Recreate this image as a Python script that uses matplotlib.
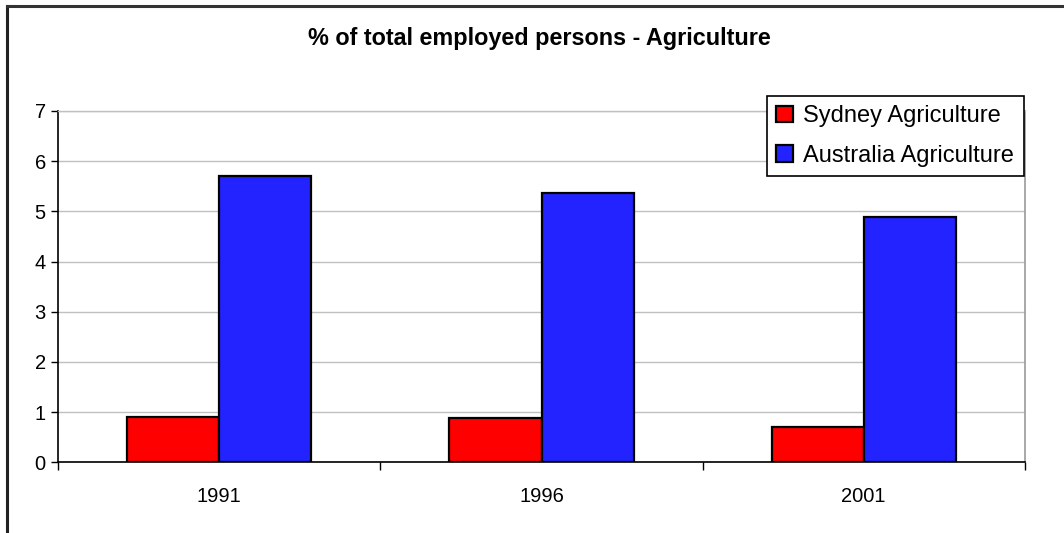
import matplotlib
matplotlib.use("Agg")
import matplotlib.pyplot as plt
from matplotlib.lines import Line2D
import numpy as np

years = ["1991", "1996", "2001"]
sydney = [0.91, 0.88, 0.71]
australia = [5.71, 5.36, 4.88]
series_names = ["Sydney Agriculture", "Australia Agriculture"]
y_ticks = [0, 1, 2, 3, 4, 5, 6, 7]
title = "% of total employed persons - Agriculture"

plt.rcParams['font.family'] = ['Liberation Sans', 'DejaVu Sans']

W, H = 1064, 533
fig = plt.figure(figsize=(W / 100, H / 100), dpi=100)
fig.patch.set_facecolor('white')

ax = fig.add_axes([58.3 / W, 1 - 462.3 / H, (1024.7 - 58.3) / W, (462.3 - 111) / H])

x = np.arange(len(years))
bw = 1 / 3.5
ax.bar(x - bw / 2, sydney, bw, color='#ff0000', edgecolor='black', linewidth=1.6,
       label=series_names[0], zorder=3)
ax.bar(x + bw / 2, australia, bw, color='#2323ff', edgecolor='black', linewidth=1.6,
       label=series_names[1], zorder=3)

ax.set_xlim(-0.5, len(years) - 0.5)
ax.set_ylim(0, 7)
ax.set_yticks(y_ticks)
ax.set_yticklabels([str(t) for t in y_ticks])
ax.set_xticks(x)
ax.set_xticklabels(years)
ax.set_xticks(np.arange(len(years) + 1) - 0.5, minor=True)
ax.tick_params(axis='x', which='major', length=0, pad=18, labelsize=14.5)
ax.tick_params(axis='x', which='minor', length=6, width=1, color='black', direction='out')
ax.tick_params(axis='y', which='major', length=5, width=1, direction='out', pad=4, labelsize=14.5)

ax.yaxis.grid(True, color='#c0c0c0', linewidth=1, zorder=0)
ax.set_axisbelow(True)
for s in ['left', 'bottom']:
    ax.spines[s].set_color('black')
    ax.spines[s].set_linewidth(1.2)
ax.spines['top'].set_color('#c0c0c0')
ax.spines['top'].set_linewidth(1)
ax.spines['right'].set_color('#9a9a9a')
ax.spines['right'].set_linewidth(1.2)

fig.text(539 / W, 1 - 39 / H, title, ha='center', va='center', fontsize=16.8,
         fontweight='bold')

leg = ax.legend(loc='upper left', bbox_to_anchor=(766.7 / W, 1 - 95.7 / H),
                bbox_transform=fig.transFigure, borderaxespad=0, fontsize=17,
                frameon=True, fancybox=False, edgecolor='black', framealpha=1,
                handlelength=0.7, handleheight=0.7, handletextpad=0.45,
                labelspacing=0.75, borderpad=0.4)
leg.get_frame().set_linewidth(1.2)
leg.set_zorder(10)

fig.add_artist(Line2D([6.5 / W, 6.5 / W], [0, 1 - 5.5 / H], color='#222222', linewidth=2.2,
                      transform=fig.transFigure))
fig.add_artist(Line2D([6.5 / W, 1], [1 - 5.5 / H, 1 - 5.5 / H], color='#333333', linewidth=2.2,
                      transform=fig.transFigure))

fig.savefig('out.png', dpi=100, facecolor='white')
